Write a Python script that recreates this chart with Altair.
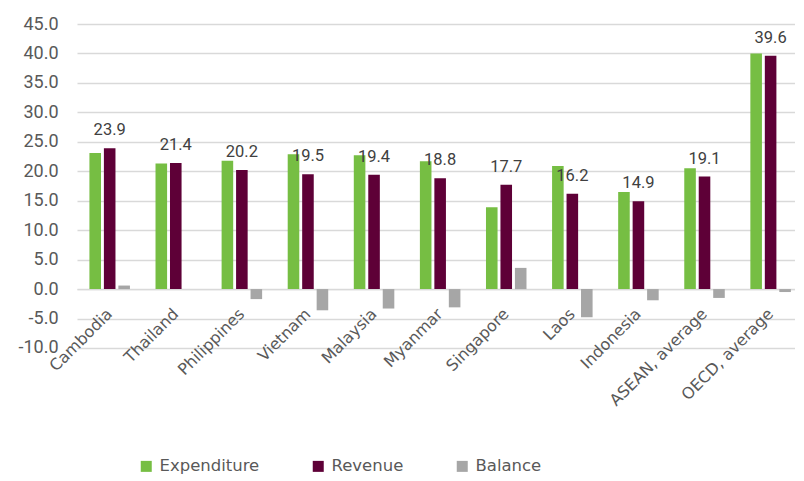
import altair as alt
import pandas as pd

categories = ["Cambodia", "Thailand", "Philippines", "Vietnam", "Malaysia", "Myanmar",
              "Singapore", "Laos", "Indonesia", "ASEAN, average", "OECD, average"]
expenditure = [23.1, 21.3, 21.8, 22.9, 22.7, 21.7, 13.9, 20.9, 16.5, 20.5, 40.0]
revenue = [23.9, 21.4, 20.2, 19.5, 19.4, 18.8, 17.7, 16.2, 14.9, 19.1, 39.6]
balance = [0.6, 0.0, -1.7, -3.6, -3.3, -3.1, 3.6, -4.8, -1.9, -1.5, -0.5]
series = ["Expenditure", "Revenue", "Balance"]
colors = ["#76BE43", "#5E0037", "#A6A6A6"]
y_ticks = [-10, -5, 0, 5, 10, 15, 20, 25, 30, 35, 40, 45]

rows = []
for i, c in enumerate(categories):
    rows.append({"country": c, "series": "Expenditure", "value": expenditure[i]})
    rows.append({"country": c, "series": "Revenue", "value": revenue[i]})
    rows.append({"country": c, "series": "Balance", "value": balance[i]})
df = pd.DataFrame(rows)

H = 324
x = alt.X("country:N", sort=categories,
          scale=alt.Scale(paddingInner=0.387, paddingOuter=0.188),
          axis=alt.Axis(title=None, labelAngle=-45, labelAlign="right", labelBaseline="middle",
                        labelFont="DejaVu Sans", labelFontSize=16, labelColor="#595959",
                        ticks=False, domainColor="#D9D9D9", domainWidth=1.3,
                        offset=-(10 / 55) * H, labelPadding=22))
y = alt.Y("value:Q", stack=None,
          scale=alt.Scale(domain=[-10, 45], nice=False),
          axis=alt.Axis(title=None, values=y_ticks,
                        labelExpr="replace(format(datum.value, '.1f'), '\u2212', '-')",
                        labelFont="Roboto", labelFontSize=18, labelColor="#595959",
                        ticks=False, domain=False, gridColor="#D9D9D9", gridWidth=1.3,
                        labelPadding=19, minExtent=68.7, maxExtent=68.7))
xo = alt.XOffset("series:N", sort=series,
                 scale=alt.Scale(domain=series, paddingInner=0.2, paddingOuter=0))

base = alt.Chart(df)
bars = base.mark_bar().encode(
    x=x, xOffset=xo, y=y, y2=alt.datum(0),
    color=alt.Color("series:N", sort=series,
                    scale=alt.Scale(domain=series, range=colors),
                    legend=alt.Legend(title=None, orient="none", legendX=61, legendY=434,
                                      direction="horizontal", symbolType="square",
                                      symbolSize=121, symbolStrokeWidth=0, padding=0,
                                      labelFont="DejaVu Sans", labelFontSize=16.5,
                                      labelColor="#595959", columnPadding=50, labelOffset=5)),
)
labels = base.transform_filter(alt.datum.series == "Revenue").mark_text(
    font="Roboto", fontSize=16.5, color="#404040", baseline="alphabetic", dy=-13
).encode(x=x, xOffset=xo, y=y, text=alt.Text("value:Q", format=".1f"))

chart = alt.layer(bars, labels).properties(
    width=726.3, height=H,
    padding={"left": 0, "top": 7, "right": -8, "bottom": 0},
).configure_view(stroke=None)

chart.save("out.html", embed_options={"renderer": "svg", "actions": False})
